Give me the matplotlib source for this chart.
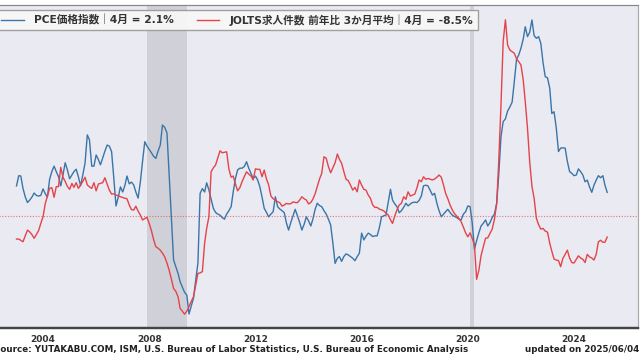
import pandas as pd
import matplotlib
matplotlib.use("Agg")
import matplotlib.pyplot as plt
import matplotlib.dates as mdates

# Datos mensuales: ene 2003 - abr 2025
pce = [
    2.28, 2.58, 2.57, 2.20, 1.96, 1.79, 1.86, 1.95, 2.07, 2.00, 1.98, 2.00,  # 2003
    2.19, 2.05, 1.95, 2.48, 2.70, 2.86, 2.70, 2.55, 2.28, 2.60, 2.96, 2.75,  # 2004
    2.49, 2.60, 2.70, 2.77, 2.55, 2.28, 2.60, 2.95, 3.78, 3.63, 2.86, 2.86,  # 2005
    3.19, 3.05, 2.90, 3.10, 3.30, 3.48, 3.45, 3.29, 2.50, 1.69, 1.95, 2.25,  # 2006
    2.10, 2.30, 2.57, 2.34, 2.39, 2.31, 2.10, 1.92, 2.40, 3.00, 3.58, 3.45,  # 2007
    3.35, 3.25, 3.15, 3.09, 3.30, 3.48, 4.07, 4.00, 3.84, 2.60, 1.37, 0.10,  # 2008
    -0.10, -0.30, -0.54, -0.70, -0.85, -0.93, -1.49, -1.25, -1.02, -0.50, 0.01, 2.06,  # 2009
    2.20, 2.10, 2.37, 2.16, 1.90, 1.62, 1.50, 1.45, 1.42, 1.35, 1.30, 1.45,  # 2010
    1.55, 1.67, 2.10, 2.50, 2.75, 2.80, 2.80, 2.85, 2.99, 2.80, 2.65, 2.50,  # 2011
    2.57, 2.45, 2.26, 1.95, 1.62, 1.50, 1.37, 1.45, 1.52, 1.96, 1.67, 1.60,  # 2012
    1.55, 1.49, 1.20, 0.98, 1.20, 1.40, 1.59, 1.40, 1.20, 0.98, 1.15, 1.37,  # 2013
    1.25, 1.10, 1.30, 1.59, 1.77, 1.70, 1.67, 1.55, 1.45, 1.30, 1.13, 0.60,  # 2014
    0.00, 0.15, 0.20, 0.06, 0.20, 0.28, 0.25, 0.20, 0.15, 0.08, 0.20, 0.30,  # 2015
    0.89, 0.69, 0.80, 0.89, 0.85, 0.79, 0.81, 0.81, 1.05, 1.37, 1.40, 1.42,  # 2016
    1.80, 2.18, 1.86, 1.75, 1.67, 1.49, 1.55, 1.65, 1.77, 1.69, 1.75, 1.79,  # 2017
    1.80, 1.79, 1.85, 1.98, 2.28, 2.30, 2.28, 2.15, 2.01, 2.06, 1.77, 1.55,  # 2018
    1.37, 1.45, 1.52, 1.59, 1.50, 1.42, 1.38, 1.35, 1.30, 1.28, 1.45, 1.52,  # 2019
    1.69, 1.67, 1.20, 0.42, 0.67, 0.90, 1.10, 1.18, 1.28, 1.10, 1.20, 1.35,  # 2020
    1.45, 1.77, 2.60, 3.73, 4.17, 4.25, 4.48, 4.60, 4.74, 5.34, 6.00, 6.13,  # 2021
    6.33, 6.60, 6.96, 6.67, 6.80, 7.16, 6.70, 6.62, 6.67, 6.47, 5.90, 5.49,  # 2022
    5.46, 5.15, 4.41, 4.46, 4.00, 3.29, 3.39, 3.40, 3.39, 3.00, 2.70, 2.65,  # 2023
    2.58, 2.60, 2.78, 2.70, 2.60, 2.40, 2.45, 2.25, 2.09, 2.30, 2.45, 2.58,  # 2024
    2.52, 2.58, 2.30, 2.09,  # 2025
]

jolts = [
    -9.3, -9.3, -9.8, -10.4, -8.0, -5.7, -6.4, -7.5, -9.0, -7.5, -5.9, -3.0,  # 2003
    -0.3, 5.1, 8.1, 11.2, 11.5, 7.6, 11.9, 11.9, 19.7, 15.7, 14.0, 12.0,  # 2004
    10.8, 13.2, 11.6, 13.5, 11.2, 12.6, 14.0, 15.7, 12.6, 11.8, 11.2, 13.5,  # 2005
    10.2, 13.0, 13.2, 13.5, 15.5, 13.0, 10.5, 8.9, 9.0, 8.5, 8.2, 7.8,  # 2006
    7.5, 7.2, 7.0, 4.5, 2.6, 2.4, 4.0, 2.0, 0.4, -1.6, -1.0, -0.5,  # 2007
    -3.0, -6.0, -9.5, -12.4, -13.0, -13.8, -15.0, -16.5, -19.0, -21.9, -25.5, -29.3,  # 2008
    -30.5, -32.7, -37.4, -38.5, -39.7, -38.5, -36.7, -34.5, -32.7, -28.0, -23.2, -23.0,  # 2009
    -22.5, -11.0, -5.0, -0.3, 17.9, 19.5, 20.6, 23.5, 26.4, 25.6, 25.8, 26.0,  # 2010
    19.0, 15.7, 16.2, 13.0, 10.2, 11.5, 13.9, 16.0, 17.9, 17.0, 16.2, 14.6,  # 2011
    19.1, 18.9, 18.9, 15.9, 18.6, 15.0, 12.6, 8.1, 7.0, 6.5, 5.8, 5.4,  # 2012
    4.0, 4.5, 5.1, 4.9, 5.0, 5.7, 5.5, 5.4, 6.5, 7.8, 7.0, 6.5,  # 2013
    4.9, 5.5, 6.8, 9.0, 11.9, 15.0, 17.3, 24.0, 23.4, 20.0, 17.5, 19.5,  # 2014
    21.6, 25.1, 23.0, 21.3, 18.0, 14.9, 14.3, 12.5, 10.5, 11.6, 9.8, 14.6,  # 2015
    12.5, 10.8, 10.5, 8.5, 7.2, 4.5, 3.5, 3.5, 2.8, 2.5, 2.1, 1.2,  # 2016
    0.4, -1.5, -3.0, 0.0, 2.5, 4.5, 5.1, 7.8, 6.8, 9.8, 8.1, 8.5,  # 2017
    8.9, 11.5, 14.6, 13.9, 15.9, 14.9, 15.2, 14.9, 14.6, 15.0, 15.7, 16.6,  # 2018
    15.7, 12.5, 9.2, 7.0, 4.5, 2.5, 1.0, 0.0, -1.0, -2.3, -4.5, -6.8,  # 2019
    -8.4, -6.8, -9.0, -11.7, -25.6, -21.9, -16.0, -12.4, -9.0, -8.8, -7.0, -5.3,  # 2020
    -1.3, 5.1, 22.0, 44.9, 70.6, 79.4, 69.2, 67.2, 66.5, 65.9, 63.6, 62.5,  # 2021
    61.1, 55.1, 46.3, 35.5, 22.0, 12.0, 7.2, -0.9, -3.5, -5.3, -5.0, -6.1,  # 2022
    -6.5, -11.0, -14.2, -17.4, -17.8, -18.0, -20.5, -17.1, -15.5, -13.8, -17.0, -18.8,  # 2023
    -19.0, -17.5, -16.1, -17.0, -17.5, -18.8, -15.5, -16.5, -17.0, -17.8, -15.5, -10.4,  # 2024
    -9.8, -10.6, -10.6, -8.5,  # 2025
]

fechas = pd.date_range("2003-01-01", periods=len(pce), freq="MS")

# Recesiones
recesiones = [("2007-12-01", "2009-06-01"), ("2020-02-01", "2020-04-01")]

etiqueta_pce = "PCE価格指数｜4月 = 2.1%"
etiqueta_jolts = "JOLTS求人件数 前年比 3か月平均｜4月 = -8.5%"
fuente = "Source: YUTAKABU.COM, ISM, U.S. Bureau of Labor Statistics, U.S. Bureau of Economic Analysis"
actualizado = "updated on 2025/06/04"

azul = "#3a75a8"
rojo = "#e5434a"
fuentes = ["DejaVu Sans", "Noto Sans CJK JP"]
plt.rcParams["font.family"] = fuentes

fig = plt.figure(figsize=(6.4, 3.6), dpi=100)
fig.patch.set_facecolor("white")
ax = fig.add_axes([-8 / 640, 32 / 360, 646 / 640, 323 / 360])
ax.set_facecolor("#eaeaf2")
ax2 = ax.twinx()

for ini, fin in recesiones:
    ax.axvspan(pd.Timestamp(ini), pd.Timestamp(fin), color="#d0d1d8", lw=0, zorder=0)

l1, = ax.plot(fechas, pce, color=azul, lw=1.0, label=etiqueta_pce)
ax2.axhline(0, color=rojo, lw=0.8, ls=(0, (1, 1.5)), alpha=0.7)
l2, = ax2.plot(fechas, jolts, color=rojo, lw=1.0, label=etiqueta_jolts)

ax.set_ylim(-1.9, 7.6)
ax2.set_ylim(-45.3, 85.4)
ax.set_xlim(pd.Timestamp("2002-01-29"), pd.Timestamp("2026-05-30"))

ax.xaxis.set_major_locator(mdates.YearLocator(4))
ax.xaxis.set_major_formatter(mdates.DateFormatter("%Y"))
ax.tick_params(axis="x", length=0, pad=5, labelsize=6.5, labelcolor="#333333")
for t in ax.get_xticklabels():
    t.set_fontweight("bold")
ax.set_yticks([])
ax2.set_yticks([])

for a in (ax, ax2):
    a.spines["left"].set_visible(False)
    a.spines["top"].set_color("#888888")
    a.spines["right"].set_color("#aaaaaa")
    a.spines["bottom"].set_color("#444444")
    a.spines["bottom"].set_linewidth(1.6)

leg = ax2.legend(handles=[l1, l2], loc="upper left", ncol=2, fancybox=False,
                 framealpha=0.92, facecolor="#f8f8f8", edgecolor="#999999",
                 prop={"size": 7.7, "weight": "bold", "family": fuentes},
                 handlelength=2.1, handletextpad=1.0, columnspacing=2.1,
                 borderaxespad=0.45)
for t in leg.get_texts():
    t.set_color("#333333")

fig.text(-0.009, 0.028, fuente, ha="left", va="center", fontsize=6.3,
         fontweight="bold", color="#222222")
fig.text(0.999, 0.028, actualizado, ha="right", va="center", fontsize=6.3,
         fontweight="bold", color="#222222")

fig.savefig("out.png", dpi=100)
